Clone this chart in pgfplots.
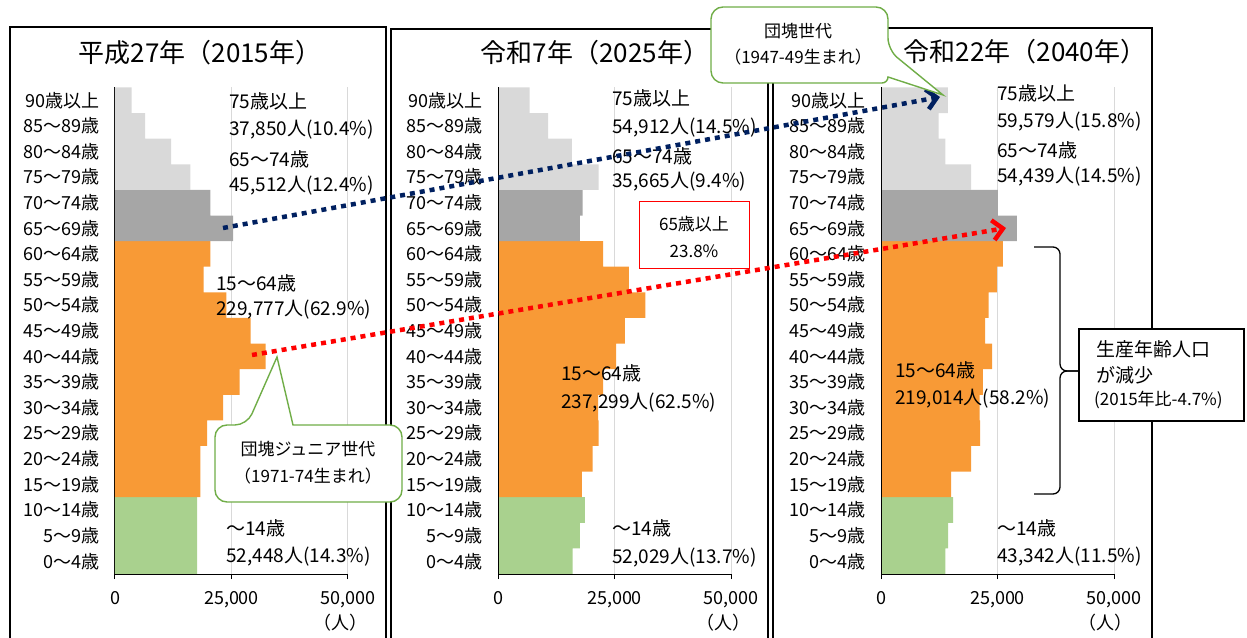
\documentclass[border=0pt]{standalone}
\usepackage{fontspec}
\setmainfont{Noto Sans CJK JP}
\usepackage{pgfplots}
\pgfplotsset{compat=1.18}
\usetikzlibrary{arrows.meta}
\definecolor{lgray}{HTML}{D9D9D9}
\definecolor{dgray}{HTML}{A6A6A6}
\definecolor{orng}{HTML}{F89A36}
\definecolor{grn}{HTML}{A9D18E}
\definecolor{navy}{HTML}{002060}
\definecolor{cgreen}{HTML}{70AD47}
\definecolor{gridc}{HTML}{D9D9D9}
\newcommand{\fa}{\fontsize{18}{20}\selectfont}
\newcommand{\fb}{\fontsize{19}{21}\selectfont}
\newcommand{\ft}{\fontsize{26}{29}\selectfont}
\newcommand{\fc}{\fontsize{17}{19}\selectfont}
\newcommand{\fs}{\fontsize{17}{19}\selectfont}
\pgfplotsset{pyr/.style={
  scale only axis, width=233pt, height=486.5pt,
  xmin=0, xmax=50000, ymin=-0.5, ymax=18.5,
  axis lines*=left, axis line style={black, line width=1pt},
  xtick={0,25000,50000}, scaled x ticks=false,
  xmajorgrids, grid style={gridc, line width=1pt},
  tick align=outside, x tick style={black, line width=1pt}, major tick length=5pt,
  ytick={0,...,18},
  yticklabels={0～4歳,5～9歳,10～14歳,15～19歳,20～24歳,25～29歳,30～34歳,35～39歳,40～44歳,45～49歳,50～54歳,55～59歳,60～64歳,65～69歳,70～74歳,75～79歳,80～84歳,85～89歳,90歳以上},
  y tick style={draw=none},
  yticklabel style={font=\fa, anchor=east, inner sep=0pt, xshift=-10pt},
  xticklabel style={font=\fa, anchor=north, inner sep=0pt, yshift=-12pt},
  /pgf/number format/assume math mode=true,
  xbar, bar width=25.6pt, bar shift=0pt,
}}
\begin{document}
\begin{tikzpicture}[x=1pt,y=1pt]
\useasboundingbox (0,0) rectangle (1247,637);
% panel boxes
\draw[line width=1.2pt] (10,610) rectangle (386,-5);
\draw[line width=1.2pt] (391,608) rectangle (768,-5);
\draw[line width=1.2pt] (773,609) rectangle (1152,-5);
% titles
\node[font=\ft] at (200,584) {平成27年（2015年）};
\node[font=\ft] at (595,584) {令和7年（2025年）};
\node[font=\ft] at (1025,585) {令和22年（2040年）};

% ---------- 2015 ----------
\begin{axis}[pyr, at={(115pt,63pt)}, anchor=south west]
\addplot[fill=grn, draw=none, bar shift=0pt] coordinates {(17600,0) (17600,1) (17600,2)};
\addplot[fill=orng, draw=none, bar shift=0pt] coordinates {(18319,3) (18319,4) (19756,5) (23204,6) (26724,7) (32328,8) (29095,9) (23922,10) (19037,11) (20474,12)};
\addplot[fill=dgray, draw=none, bar shift=0pt] coordinates {(25359,13) (20474,14)};
\addplot[fill=lgray, draw=none, bar shift=0pt] coordinates {(16164,15) (12069,16) (6466,17) (3592,18)};
\draw[black, line width=1pt] (axis cs:0,18.5) -- (axis cs:0,-0.5) -- (axis cs:50000,-0.5);
\end{axis}

% ---------- 2025 ----------
\begin{axis}[pyr, at={(498pt,63pt)}, anchor=south west]
\addplot[fill=grn, draw=none, bar shift=0pt] coordinates {(15994,0) (17579,1) (18660,2)};
\addplot[fill=orng, draw=none, bar shift=0pt] coordinates {(18012,3) (20317,4) (21614,5) (21470,6) (22550,7) (25360,8) (27233,9) (31628,10) (28098,11) (22550,12)};
\addplot[fill=dgray, draw=none, bar shift=0pt] coordinates {(17579,13) (18156,14)};
\addplot[fill=lgray, draw=none, bar shift=0pt] coordinates {(21614,15) (15850,16) (10735,17) (6772,18)};
\draw[black, line width=1pt] (axis cs:0,18.5) -- (axis cs:0,-0.5) -- (axis cs:50000,-0.5);
\end{axis}

% ---------- 2040 ----------
\begin{axis}[pyr, at={(881pt,63pt)}, anchor=south west]
\addplot[fill=grn, draw=none, bar shift=0pt] coordinates {(13786,0) (14429,1) (15500,2)};
\addplot[fill=orng, draw=none, bar shift=0pt] coordinates {(15071,3) (19357,4) (21286,5) (21143,6) (21857,7) (23857,8) (22357,9) (23071,10) (24857,11) (26143,12)};
\addplot[fill=dgray, draw=none, bar shift=0pt] coordinates {(29143,13) (25071,14)};
\addplot[fill=lgray, draw=none, bar shift=0pt] coordinates {(19357,15) (13786,16) (12357,17) (14357,18)};
\draw[black, line width=1pt] (axis cs:0,18.5) -- (axis cs:0,-0.5) -- (axis cs:50000,-0.5);
\end{axis}

% unit labels
\node[font=\fa] at (340,14) {（人）};
\node[font=\fa] at (723,14) {（人）};
\node[font=\fa] at (1105,14) {（人）};

% annotations
\begin{scope}[every node/.style={anchor=west, inner sep=0pt, font=\fb}]
\node at (229,536) {75歳以上};
\node at (229,507) {37,850人(10.4\%)};
\node at (229,478) {65～74歳};
\node at (229,451) {45,512人(12.4\%)};
\node at (216,354) {15～64歳};
\node at (216,327) {229,777人(62.9\%)};
\node at (226,109) {～14歳};
\node at (226,80) {52,448人(14.3\%)};
% 2025
\node at (612,539) {75歳以上};
\node at (612,509) {54,912人(14.5\%)};
\node at (612,481) {65～74歳};
\node at (612,455) {35,665人(9.4\%)};
\node at (561,264) {15～64歳};
\node at (561,234) {237,299人(62.5\%)};
\node at (612,109) {～14歳};
\node at (612,79) {52,029人(13.7\%)};
% 2040
\node at (997,544) {75歳以上};
\node at (997,515) {59,579人(15.8\%)};
\node at (997,487) {65～74歳};
\node at (997,460) {54,439人(14.5\%)};
\node at (895,267) {15～64歳};
\node at (895,238) {219,014人(58.2\%)};
\node at (997,109) {～14歳};
\node at (997,80) {43,342人(11.5\%)};
\end{scope}

% red box
\draw[red, line width=1pt, fill=white] (639,435) rectangle (749,368);
\node[font=\fs] at (694,413) {65歳以上};
\node[font=\fs] at (694,386) {23.8\%};

% dotted arrows
\draw[navy, line width=4.5pt, dash pattern=on 5pt off 5pt, -{Straight Barb[length=10pt,width=20pt]}] (223,409) -- (940,540);
\draw[red, line width=4.5pt, dash pattern=on 5pt off 5pt, -{Straight Barb[length=10pt,width=20pt]}] (252,282) -- (1006,409);

% brace
\draw[line width=1.3pt, rounded corners=7pt] (1034,390) -| (1060,266) -- (1078,266);
\draw[line width=1.3pt, rounded corners=7pt] (1078,266) -- (1060,266) |- (1034,143);

% box
\draw[line width=1.3pt, fill=white] (1079,308) rectangle (1244,216);
\node[anchor=west, inner sep=0pt, font=\fb] at (1096,288) {生産年齢人口};
\node[anchor=west, inner sep=0pt, font=\fb] at (1096,262) {が減少};
\node[anchor=west, inner sep=0pt, font=\fc] at (1094,237) {(2015年比-4.7\%)};

% callouts
\draw[cgreen, line width=1.4pt, fill=white, rounded corners=12pt]
  (711,592) |- (800,630) -| (888,587) [sharp corners] -- (943,542) -- (888,560) [rounded corners=6pt] |- (800,554) [rounded corners=12pt] -| (711,592) -- cycle;
\node[font=\fc] at (798,606) {団塊世代};
\node[font=\fc] at (798,580) {（1947-49生まれ）};

\draw[cgreen, line width=1.4pt, fill=white, rounded corners=12pt]
  (215,174) |- (247,212) [sharp corners] -- (277,280) -- (293,212) [rounded corners=12pt] -| (402,174) |- (215,135) -- cycle;
\node[font=\fc] at (308,188) {団塊ジュニア世代};
\node[font=\fc] at (308,161) {（1971-74生まれ）};
\end{tikzpicture}
\end{document}
